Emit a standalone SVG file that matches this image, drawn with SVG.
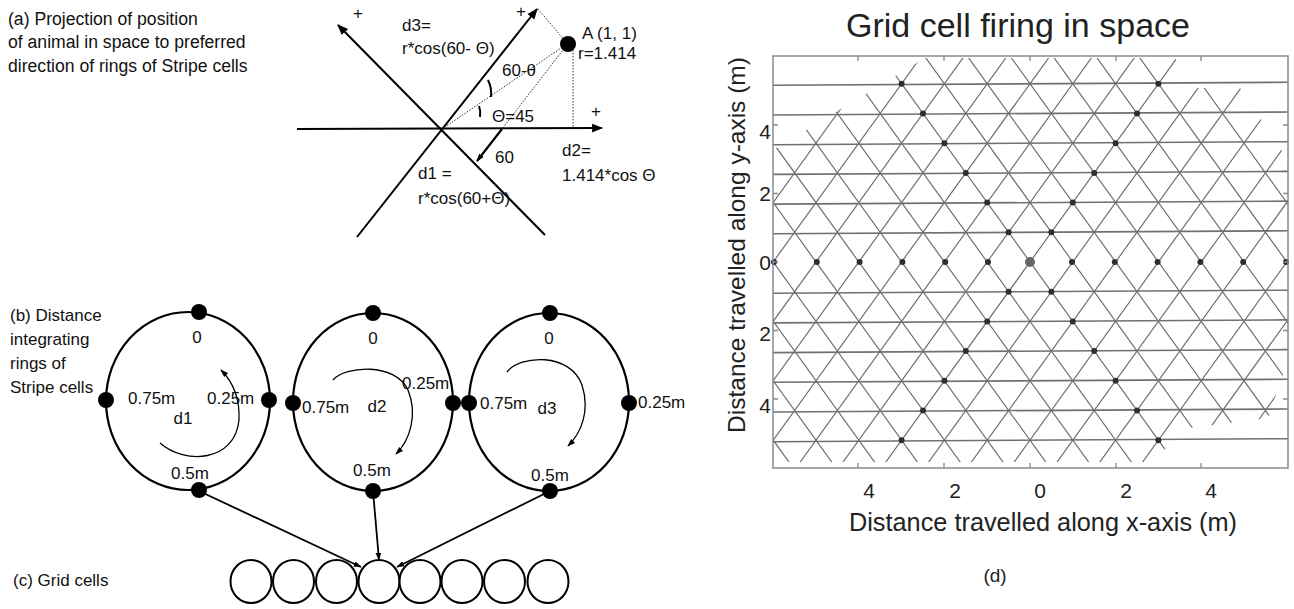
<svg xmlns="http://www.w3.org/2000/svg" width="1294" height="609" viewBox="0 0 1294 609">
<style>
text{font-family:"Liberation Sans",Arial,sans-serif;fill:#111}
.t17{font-size:17px}
.hd{font-size:17.6px}
.mid{text-anchor:middle}
.ax{stroke:#000;stroke-width:2;fill:none}
.dot{stroke:#333;stroke-width:1;stroke-dasharray:1.5 1.5;fill:none}
.ring{stroke:#000;stroke-width:2.2;fill:none}
.bd{fill:#000}
.cell{stroke:#000;stroke-width:2;fill:#fff}
.con{stroke:#000;stroke-width:1.8;fill:none}
.curv{stroke:#000;stroke-width:1.3;fill:none}
.lat{stroke:#707070;stroke-width:1.2;fill:none}
.hl{stroke:#707070;stroke-width:1.6;fill:none}
.fd{fill:#2e2e2e}
.tick{stroke:#888;stroke-width:1.3}
.dt{font-size:21px;fill:#222}
</style>
<defs>
<marker id="ah" viewBox="0 0 10 10" refX="9" refY="5" markerWidth="11" markerHeight="11" markerUnits="userSpaceOnUse" orient="auto"><path d="M0,1 L10,5 L0,9 z" fill="#000"/></marker>
<marker id="ahs" viewBox="0 0 10 10" refX="9" refY="5" markerWidth="8" markerHeight="8" markerUnits="userSpaceOnUse" orient="auto"><path d="M0,1.5 L10,5 L0,8.5 z" fill="#000"/></marker>
<clipPath id="latclip"><polygon points="773,150 925,58 1175,58 1195,88 1240,88 1288,160 1288,360 1268,418 1190,428 1150,462 773,462"/></clipPath>
</defs>
<rect width="1294" height="609" fill="#fff"/>

<g id="panel-a">
<text class="hd" x="8" y="25">(a)  Projection of position</text>
<text class="hd" x="8" y="48">of animal in space to preferred</text>
<text class="hd" x="8" y="72">direction of rings of Stripe cells</text>
<line class="ax" x1="297" y1="129" x2="602" y2="128" marker-end="url(#ah)"/>
<line class="ax" x1="357" y1="237" x2="537" y2="9" marker-end="url(#ah)"/>
<line class="ax" x1="545" y1="235" x2="338" y2="25" marker-end="url(#ah)"/>
<line class="dot" x1="442" y1="129" x2="567" y2="44"/>
<line class="dot" x1="538" y1="9" x2="567" y2="43"/>
<line class="dot" x1="566" y1="46" x2="502" y2="129"/>
<line class="dot" x1="573" y1="50" x2="573" y2="129"/>
<line x1="502" y1="129" x2="477" y2="161" stroke="#000" stroke-width="2.2" marker-end="url(#ahs)"/>
<path d="M488,80 Q492,88 491,97" stroke="#000" stroke-width="2" fill="none"/>
<path d="M479,106 Q481,111 480,117" stroke="#000" stroke-width="2" fill="none"/>
<circle cx="568" cy="44" r="8" fill="#000"/>
<text class="t17 mid" x="358" y="19">+</text>
<text class="t17 mid" x="521" y="17">+</text>
<text class="t17 mid" x="596" y="117">+</text>
<text class="t17" x="402" y="31">d3=</text>
<text class="t17" x="402" y="54">r*cos(60- Θ)</text>
<text class="t17" x="582" y="39">A (1, 1)</text>
<text class="t17" x="578" y="59">r=1.414</text>
<text class="t17" x="502" y="76">60-θ</text>
<text class="t17" x="492" y="122">Θ=45</text>
<text class="t17" x="495" y="163">60</text>
<text class="t17" x="562" y="156">d2=</text>
<text class="t17" x="562" y="181">1.414*cos Θ</text>
<text class="t17" x="418" y="179">d1 =</text>
<text class="t17" x="418" y="204">r*cos(60+Θ)</text>
</g>

<g id="label-b">
<text class="t17" x="10" y="321">(b) Distance</text>
<text class="t17" x="10" y="345">integrating</text>
<text class="t17" x="10" y="369">rings of</text>
<text class="t17" x="10" y="393">Stripe cells</text>
</g>

<g id="ring1">
<ellipse class="ring" cx="188" cy="401" rx="82" ry="89"/>
<circle class="bd" cx="199" cy="312" r="8"/>
<circle class="bd" cx="106" cy="400" r="8"/>
<circle class="bd" cx="269" cy="400" r="8"/>
<circle class="bd" cx="199" cy="490" r="8"/>
<text class="t17 mid" x="197" y="343">0</text>
<text class="t17" x="128" y="404">0.75m</text>
<text class="t17" x="207" y="404">0.25m</text>
<text class="t17 mid" x="183" y="424">d1</text>
<text class="t17 mid" x="190" y="479">0.5m</text>
<path class="curv" d="M160,443 C185,465 235,462 239,420 C240,398 232,381 221,370" marker-end="url(#ahs)"/>
</g>

<g id="ring2">
<ellipse class="ring" cx="373" cy="402" rx="80" ry="89"/>
<circle class="bd" cx="373" cy="313" r="8"/>
<circle class="bd" cx="293" cy="403" r="8"/>
<circle class="bd" cx="453" cy="403" r="8"/>
<circle class="bd" cx="373" cy="491" r="8"/>
<text class="t17 mid" x="373" y="344">0</text>
<text class="t17" x="302" y="413">0.75m</text>
<text class="t17 mid" x="377" y="412">d2</text>
<text class="t17" x="402" y="389">0.25m</text>
<text class="t17 mid" x="372" y="476">0.5m</text>
<path class="curv" d="M333,380 C345,366 395,362 408,390 C418,415 410,440 396,454" marker-end="url(#ahs)"/>
</g>

<g id="ring3">
<ellipse class="ring" cx="549" cy="402" rx="80" ry="89"/>
<circle class="bd" cx="550" cy="313" r="8"/>
<circle class="bd" cx="469" cy="403" r="8"/>
<circle class="bd" cx="629" cy="403" r="8"/>
<circle class="bd" cx="550" cy="491" r="8"/>
<text class="t17 mid" x="549" y="344">0</text>
<text class="t17" x="480" y="409">0.75m</text>
<text class="t17 mid" x="547" y="414">d3</text>
<text class="t17" x="638" y="408">0.25m</text>
<text class="t17 mid" x="550" y="481">0.5m</text>
<path class="curv" d="M507,372 C520,355 570,352 582,385 C590,410 582,432 568,446" marker-end="url(#ahs)"/>
</g>

<g id="grid-cells">
<text class="t17" x="13" y="586">(c) Grid cells</text>
<ellipse class="cell" cx="251" cy="581.5" rx="20.5" ry="21.5"/>
<ellipse class="cell" cx="293.5" cy="581.5" rx="20.5" ry="21.5"/>
<ellipse class="cell" cx="336.5" cy="581.5" rx="20.5" ry="21.5"/>
<ellipse class="cell" cx="379" cy="581.5" rx="20.5" ry="21.5"/>
<ellipse class="cell" cx="420" cy="581.5" rx="20.5" ry="21.5"/>
<ellipse class="cell" cx="462" cy="581.5" rx="20.5" ry="21.5"/>
<ellipse class="cell" cx="504.5" cy="581.5" rx="20.5" ry="21.5"/>
<ellipse class="cell" cx="548" cy="581.5" rx="20.5" ry="21.5"/>
</g>

<g id="connectors">
<line class="con" x1="199" y1="491" x2="361" y2="567" marker-end="url(#ahs)"/>
<line class="con" x1="373" y1="491" x2="379" y2="560" marker-end="url(#ahs)"/>
<line class="con" x1="550" y1="491" x2="397" y2="567" marker-end="url(#ahs)"/>
</g>

<g id="panel-d">
<text x="1018" y="37" class="mid" style="font-size:34px;fill:#222">Grid cell firing in space</text>
<g clip-path="url(#latclip)">
<path class="lat" d="M754.7,50L452.1,470M797.5,50L494.9,470M840.3,50L537.7,470M883.1,50L580.5,470M925.9,50L623.3,470M968.7,50L666.1,470M1011.5,50L708.9,470M1054.3,50L751.7,470M1097.1,50L794.5,470M1139.9,50L837.3,470M1182.7,50L880.1,470M1225.5,50L922.9,470M1268.3,50L965.7,470M1311.1,50L1008.5,470M1353.9,50L1051.3,470M1396.7,50L1094.1,470M1439.5,50L1136.9,470M1482.3,50L1179.7,470M1525.1,50L1222.5,470M1567.9,50L1265.3,470M1610.7,50L1308.1,470"/>
<path class="lat" d="M449.3,50L751.9,470M492.1,50L794.7,470M534.9,50L837.5,470M577.7,50L880.3,470M620.5,50L923.1,470M663.3,50L965.9,470M706.1,50L1008.7,470M748.9,50L1051.5,470M791.7,50L1094.3,470M834.5,50L1137.1,470M877.3,50L1179.9,470M920.1,50L1222.7,470M962.9,50L1265.5,470M1005.7,50L1308.3,470M1048.5,50L1351.1,470M1091.3,50L1393.9,470M1134.1,50L1436.7,470M1176.9,50L1479.5,470M1219.7,50L1522.3,470M1262.5,50L1565.1,470M1305.3,50L1607.9,470"/>
</g>
<path class="hl" d="M773,85.3L1288,82.3M773,115L1288,112M773,144.7L1288,141.7M773,174.4L1288,171.4M773,204.1L1288,201.1M773,233.8L1288,230.8M773,293.2L1288,290.2M773,322.9L1288,319.9M773,352.6L1288,349.6M773,382.3L1288,379.3M773,412L1288,409M773,441.7L1288,438.7"/>
<g class="fd">
<circle cx="774" cy="262" r="3"/><circle cx="816.8" cy="262" r="3"/><circle cx="859.6" cy="262" r="3"/><circle cx="902.4" cy="262" r="3"/><circle cx="945.2" cy="262" r="3"/><circle cx="988" cy="262" r="3"/>
<circle cx="1072" cy="262" r="3"/><circle cx="1114.8" cy="262" r="3"/><circle cx="1157.6" cy="262" r="3"/><circle cx="1200.4" cy="262" r="3"/><circle cx="1243.2" cy="262" r="3"/><circle cx="1286" cy="262" r="3"/>
<circle cx="1008.6" cy="232.3" r="3"/><circle cx="1051.4" cy="232.3" r="3"/>
<circle cx="987.2" cy="202.6" r="3"/><circle cx="1072.8" cy="202.6" r="3"/>
<circle cx="965.8" cy="172.9" r="3"/><circle cx="1094.2" cy="172.9" r="3"/>
<circle cx="944.4" cy="143.2" r="3"/><circle cx="1115.6" cy="143.2" r="3"/>
<circle cx="923" cy="113.5" r="3"/><circle cx="1137" cy="113.5" r="3"/>
<circle cx="901.6" cy="83.8" r="3"/><circle cx="1158.4" cy="83.8" r="3"/>
<circle cx="1008.6" cy="291.7" r="3"/><circle cx="1051.4" cy="291.7" r="3"/>
<circle cx="987.2" cy="321.4" r="3"/><circle cx="1072.8" cy="321.4" r="3"/>
<circle cx="965.8" cy="351.1" r="3"/><circle cx="1094.2" cy="351.1" r="3"/>
<circle cx="944.4" cy="380.8" r="3"/><circle cx="1115.6" cy="380.8" r="3"/>
<circle cx="923" cy="410.5" r="3"/><circle cx="1137" cy="410.5" r="3"/>
<circle cx="901.6" cy="440.2" r="3"/><circle cx="1158.4" cy="440.2" r="3"/>
</g>
<circle cx="1030" cy="262" r="5" fill="#666"/>
<rect x="773" y="56" width="515" height="412" fill="none" stroke="#8a8a8a" stroke-width="1.5"/>
<path class="tick" d="M858,468v-5M944,468v-5M1030,468v-5M1116,468v-5M1201,468v-5M858,56v5M944,56v5M1030,56v5M1116,56v5M1201,56v5M773,125h5M773,193.5h5M773,262h5M773,330.5h5M773,399h5M1288,125h-5M1288,193.5h-5M1288,262h-5M1288,330.5h-5M1288,399h-5"/>
<text class="dt mid" x="765" y="139">4</text>
<text class="dt mid" x="765" y="201">2</text>
<text class="dt mid" x="765" y="270">0</text>
<text class="dt mid" x="765" y="341">2</text>
<text class="dt mid" x="765" y="413">4</text>
<text class="dt mid" x="869" y="498">4</text>
<text class="dt mid" x="955" y="498">2</text>
<text class="dt mid" x="1040" y="498">0</text>
<text class="dt mid" x="1126" y="498">2</text>
<text class="dt mid" x="1211" y="498">4</text>
<text x="1043" y="531" class="mid" style="font-size:25.3px;fill:#222">Distance travelled along x-axis (m)</text>
<text x="0" y="0" class="mid" transform="translate(745,245) rotate(-90)" style="font-size:24.5px;fill:#222">Distance travelled along y-axis (m)</text>
<text x="995" y="582" class="mid" style="font-size:19px;fill:#222">(d)</text>
</g>
</svg>
